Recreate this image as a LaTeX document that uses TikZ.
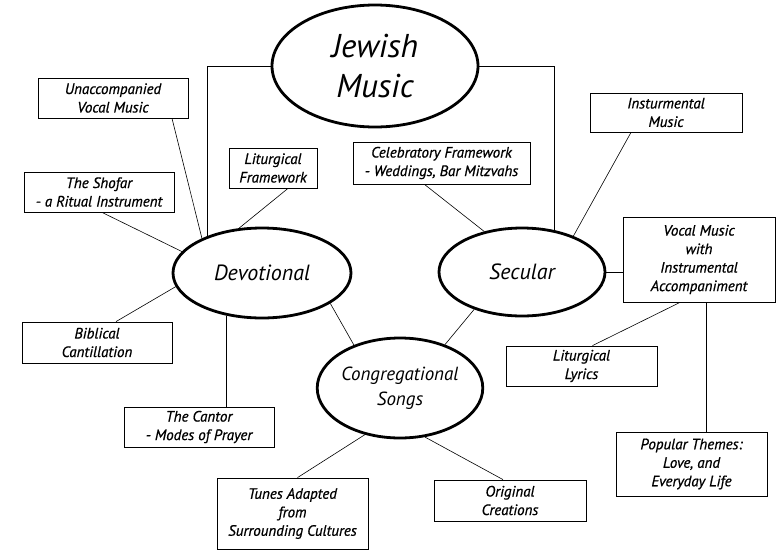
\documentclass[tikz,border=0pt]{standalone}
\usepackage{fontspec}
\setmainfont{PT Sans}
\newfontface\boxfont{PT Sans Italic}[FakeBold=0.8]
\usetikzlibrary{shapes.geometric}

\begin{document}
\begin{tikzpicture}[x=1pt, y=-1pt,
        topic/.style={ellipse, draw, line width=2.8pt, inner sep=0pt, align=center, font=\itshape},
        box/.style={rectangle, draw, line width=0.8pt, inner sep=0pt, align=center, font=\boxfont\fontsize{15}{18.5}\selectfont},
        link/.style={line width=0.6pt}]
            % Bordi della figura
            \useasboundingbox (0,0) rectangle (781,552);

            % Ellissi principali
            \node[topic, minimum width=206pt, minimum height=122pt, font=\itshape\fontsize{33}{40}\selectfont] (jm) at (375,66) {Jewish\\Music};
            \node[topic, minimum width=178pt, minimum height=90pt, font=\itshape\fontsize{22}{24}\selectfont] (dev) at (262,273) {Devotional};
            \node[topic, minimum width=166pt, minimum height=88pt, font=\itshape\fontsize{22}{24}\selectfont] (sec) at (522,272) {Secular};
            \node[topic, minimum width=140pt, minimum height=100pt, font=\itshape\fontsize{19}{25}\selectfont] (cong) at (400,388) {Congregational\\Songs};

            % Riquadri
            \node[box, minimum width=150pt, minimum height=40pt] (una) at (113,98) {Unaccompanied\\Vocal Music};
            \node[box, minimum width=150pt, minimum height=40pt] (shof) at (99,192) {The Shofar\\- a Ritual Instrument};
            \node[box, minimum width=88pt, minimum height=40pt] (lf) at (273,168) {Liturgical\\Framework};
            \node[box, minimum width=150pt, minimum height=41pt] (bc) at (97,342.5) {Biblical\\Cantillation};
            \node[box, minimum width=150pt, minimum height=40pt] (cant) at (199,427) {The Cantor\\- Modes of Prayer};
            \node[box, minimum width=177pt, minimum height=42pt] (cel) at (441.5,163) {Celebratory Framework\\- Weddings, Bar Mitzvahs};
            \node[box, minimum width=152pt, minimum height=39pt] (im) at (666,112.5) {Insturmental\\Music};
            \node[box, minimum width=152pt, minimum height=85pt] (voc) at (699,259.5) {Vocal Music\\with\\Instrumental\\Accompaniment};
            \node[box, minimum width=151pt, minimum height=40pt] (ll) at (581.5,366) {Liturgical\\Lyrics};
            \node[box, minimum width=151pt, minimum height=64pt] (pop) at (691.5,464) {Popular Themes:\\Love, and\\Everyday Life};
            \node[box, minimum width=151pt, minimum height=71pt] (tun) at (292.5,513.5) {Tunes Adapted\\from\\Surrounding Cultures};
            \node[box, minimum width=152pt, minimum height=41pt] (orig) at (510,500.5) {Original\\Creations};

            % Collegamenti dal centro
            \draw[link] (jm.west) -| (dev.146);
            \draw[link] (jm.east) -| (sec.52);

            % Collegamenti Devotional
            \draw[link] ([xshift=59pt]una.south) -- (dev.150);
            \draw[link] ([xshift=3pt]shof.south) -- (dev.165);
            \draw[link] ([xshift=15pt]lf.south) -- (dev.117);
            \draw[link] ([xshift=19pt]bc.north) -- (dev.189);
            \draw[link] (dev.230) -- (dev.230 |- cant.north);
            \draw[link] (dev.336) -- (cong.137);

            % Collegamenti Secular
            \draw[link] ([xshift=-17pt]cel.south) -- (sec.133);
            \draw[link] ([xshift=-35pt]im.south) -- (sec.35);
            \draw[link] (sec.east) -- (sec.east -| voc.west);
            \draw[link] (sec.218) -- (cong.44);
            \draw[link] ([xshift=-19pt]voc.south) -- ([xshift=11pt]ll.north);
            \draw[link] ([xshift=7pt]voc.south) -- ([xshift=7pt]voc.south |- pop.north);

            % Collegamenti Congregational Songs
            \draw[link] (cong.233) -- ([xshift=5pt]tun.north);
            \draw[link] (cong.297) -- ([xshift=-7pt]orig.north);
        \end{tikzpicture}
\end{document}
